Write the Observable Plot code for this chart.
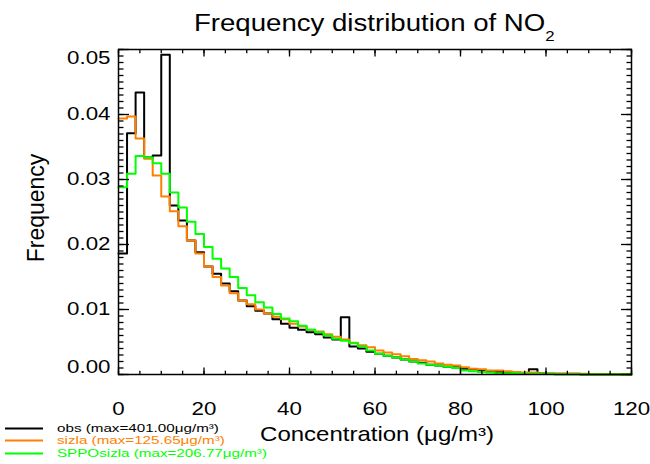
<!DOCTYPE html>
<html><head><meta charset="utf-8">
<script src="https://cdn.jsdelivr.net/npm/d3@7"></script>
<script src="https://cdn.jsdelivr.net/npm/@observablehq/plot@0.6"></script>
<style>
body{margin:0;background:#fff}
#wrap{position:relative;width:650px;height:464px;font-family:"Liberation Sans",Arial,sans-serif;overflow:hidden}
.ov{position:absolute;white-space:nowrap}
.st{display:inline-block;transform:scaleX(1.2)}
.leg{position:absolute;left:0;font-size:11px;line-height:12px;height:12px;white-space:nowrap}
</style></head><body><div id="wrap"></div>
<script>
// ---- data (bin width 2 µg/m3, bins starting at 0) ----
const binEdges = d3.range(0, 121, 2);
const obsFreq = [
 0.0186,0.0371,0.0434,0.0334,0.0337,0.0492,0.0260,0.0237,0.0206,0.0188,
 0.0166,0.0155,0.0140,0.0128,0.0114,0.0105,0.0098,0.0094,0.0085,0.0078,
 0.0072,0.0069,0.0065,0.0062,0.0057,0.0054,0.0088,0.0043,0.0040,0.0035,
 0.0032,0.0029,0.0026,0.0023,0.0020,0.0018,0.0015,0.0014,0.0012,0.0011,
 0.0009,0.0008,0.0006,0.0005,0.0004,0.0003,0.0003,0.0002,0.0008,0.0002,
 0.0001,0.0001,0.0001,0.0001,0.0000,0.0000,0.0000,0.0000,0.0000,0.0000];
const sizlaFreq = [
 0.0394,0.0397,0.0363,0.0332,0.0306,0.0274,0.0251,0.0228,0.0206,0.0186,
 0.0166,0.0150,0.0137,0.0125,0.0114,0.0108,0.0100,0.0094,0.0089,0.0085,
 0.0078,0.0074,0.0069,0.0066,0.0062,0.0058,0.0054,0.0049,0.0045,0.0042,
 0.0037,0.0034,0.0031,0.0028,0.0024,0.0022,0.0020,0.0017,0.0015,0.0014,
 0.0011,0.0009,0.0008,0.0006,0.0006,0.0005,0.0004,0.0003,0.0003,0.0002,
 0.0002,0.0001,0.0001,0.0001,0.0001,0.0000,0.0000,0.0000,0.0000,0.0000];
const sppoFreq = [
 0.0288,0.0309,0.0336,0.0334,0.0325,0.0309,0.0280,0.0257,0.0235,0.0216,
 0.0196,0.0178,0.0163,0.0150,0.0133,0.0122,0.0111,0.0103,0.0093,0.0086,
 0.0082,0.0075,0.0069,0.0065,0.0060,0.0055,0.0052,0.0048,0.0043,0.0037,
 0.0032,0.0029,0.0026,0.0023,0.0020,0.0017,0.0015,0.0014,0.0012,0.0010,
 0.0006,0.0005,0.0004,0.0003,0.0002,0.0002,0.0002,0.0001,0.0001,0.0001,
 0.0001,0.0000,0.0000,0.0000,0.0000,0.0000,0.0000,0.0000,0.0000,0.0000];
const seriesNames = ["obs", "sizla", "SPPOsizla"];
const seriesMax = ["401.00", "125.65", "206.77"];
const seriesColors = ["#000000", "#ff7f00", "#00ff00"];
const xMajorTicks = [0, 20, 40, 60, 80, 100, 120];
const xMinorTicks = d3.range(0, 121, 5);
const yMajorTicks = [0, 0.01, 0.02, 0.03, 0.04, 0.05];
const yMinorTicks = d3.range(0, 50.5, 1).map(d => d / 1000);
const titleText = "Frequency distribution of NO";
const xLabel = "Concentration (\u03bcg/m\u00b3)";
const yLabel = "Frequency";

function steps(vals, name) {
  return binEdges.map((x, i) => ({x, y: vals[Math.min(i, vals.length - 1)], name}));
}
const allVals = [obsFreq, sizlaFreq, sppoFreq];
const fmt = d3.format(".2f");
const lbl = {fontSize: 18.6, tickSize: 0, tickPadding: 8, tickFormat: fmt, label: null};
const tk = {text: null, label: null, strokeWidth: 1.3};

const plot = Plot.plot({
  width: 650, height: 464,
  marginLeft: 118, marginRight: 19, marginTop: 49, marginBottom: 90,
  style: {fontFamily: "'Liberation Sans', Arial, sans-serif", color: "#000", background: "#fff", overflow: "visible"},
  x: {domain: [0, 120]},
  y: {domain: [0, 0.05]},
  marks: [
    ...allVals.map((v, i) => Plot.line(steps(v, seriesNames[i]), {x: "x", y: "y", curve: "step-after", stroke: seriesColors[i], strokeWidth: 2})),
    Plot.frame({stroke: "#000", strokeWidth: 1.5}),
    // bottom axis
    Plot.axisX({ticks: xMajorTicks, tickSize: -6.5, tickPadding: 33.5, tickFormat: d => String(d), label: null, fontSize: 18.6, strokeWidth: 1.3}),
    Plot.axisX({ticks: xMinorTicks, tickSize: -3.3, ...tk}),
    // top axis
    Plot.axisX({anchor: "top", ticks: xMajorTicks, tickSize: -6.5, ...tk}),
    Plot.axisX({anchor: "top", ticks: xMinorTicks, tickSize: -3.3, ...tk}),
    // left axis: ticks, then labels (end labels kept inside the frame as in the original)
    Plot.axisY({ticks: yMajorTicks, tickSize: -11, ...tk}),
    Plot.axisY({ticks: yMinorTicks, tickSize: -5.5, ...tk}),
    Plot.axisY({ticks: yMajorTicks.slice(1, -1), ...lbl}),
    Plot.axisY({ticks: yMajorTicks.slice(-1), dy: 9, ...lbl}),
    Plot.axisY({ticks: yMajorTicks.slice(0, 1), dy: -7.5, ...lbl}),
    // right axis
    Plot.axisY({anchor: "right", ticks: yMajorTicks, tickSize: -11, ...tk}),
    Plot.axisY({anchor: "right", ticks: yMinorTicks, tickSize: -5.5, ...tk}),
    // axis titles
    Plot.text([xLabel], {frameAnchor: "bottom", dy: 66, dx: 2, fontSize: 20}),
    Plot.text([yLabel], {frameAnchor: "left", textAnchor: "middle", rotate: -90, dx: -82, dy: -4, fontSize: 23})
  ]
});
const wrap = document.getElementById("wrap");
wrap.append(plot);
// the original is stretched ~1.2x horizontally: stretch horizontal texts the same way
plot.querySelectorAll("text").forEach(t => {
  const tr = t.getAttribute("transform") || "";
  if (!tr.includes("rotate")) t.setAttribute("transform", tr + " scale(1.2,1)");
});

const title = document.createElement("div");
title.className = "ov";
title.style.cssText = "left:118px;width:513px;top:11.5px;text-align:center;font-size:23px;line-height:23px";
title.innerHTML = `<span class="st">${titleText}<span style="font-size:14px;vertical-align:-10px">2</span></span>`;
wrap.append(title);

seriesNames.forEach((n, i) => {
  const row = document.createElement("div");
  row.className = "leg";
  row.style.top = (421.5 + i * 12.8) + "px";
  row.style.color = seriesColors[i];
  row.innerHTML = `<svg width="50" height="12" style="position:absolute;left:0;top:0"><line x1="5" x2="43" y1="6.5" y2="6.5" stroke="${seriesColors[i]}" stroke-width="2"/></svg>` +
    `<span style="position:absolute;left:57px;top:0;display:inline-block;transform:scaleX(1.38);transform-origin:left">${n} (max=${seriesMax[i]}\u03bcg/m\u00b3)</span>`;
  wrap.append(row);
});
</script></body></html>
